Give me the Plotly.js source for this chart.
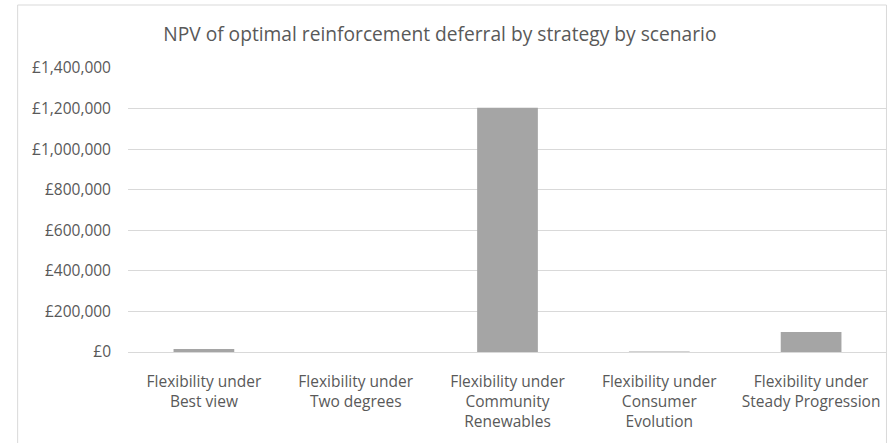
<!DOCTYPE html>
<html>
<head>
<meta charset="utf-8">
<script src="https://cdn.plot.ly/plotly-3.0.1.min.js"></script>
<style>
  html, body { margin: 0; padding: 0; background: #ffffff; }
  #chart { width: 894px; height: 443px; }
</style>
</head>
<body>
<div id="chart"></div>
<script>
const categories = [
  "Flexibility under<br>Best view",
  "Flexibility under<br>Two degrees",
  "Flexibility under<br>Community<br>Renewables",
  "Flexibility under<br>Consumer<br>Evolution",
  "Flexibility under<br>Steady Progression"
];
const npvValues = [15000, 0, 1204000, 2000, 99000];
const yTickValues = [0, 200000, 400000, 600000, 800000, 1000000, 1200000, 1400000];
const yTickLabels = ["£0", "£200,000", "£400,000", "£600,000", "£800,000", "£1,000,000", "£1,200,000", "£1,400,000"];

const fontFamily = "'Open Sans', 'Noto Sans', sans-serif";
const textColor = "#595959";

const trace = {
  type: "bar",
  x: categories,
  y: npvValues,
  marker: { color: "#a5a5a5", line: { width: 0 } },
  hoverinfo: "x+y"
};

const layout = {
  width: 894,
  height: 443,
  margin: { l: 127.5, r: 6.5, t: 68, b: 91, pad: 0 },
  paper_bgcolor: "#ffffff",
  plot_bgcolor: "#ffffff",
  showlegend: false,
  bargap: 0.6,
  title: {
    text: "NPV of optimal reinforcement deferral by strategy by scenario",
    font: { family: fontFamily, size: 19.2, color: textColor },
    x: 0.492, xanchor: "center", xref: "container",
    y: 0.922, yanchor: "middle", yref: "container"
  },
  xaxis: {
    type: "category",
    showgrid: false,
    showline: false,
    zeroline: false,
    ticks: "",
    ticklabelstandoff: 18,
    tickfont: { family: fontFamily, size: 15.5, color: textColor },
    fixedrange: true
  },
  yaxis: {
    range: [0, 1400000],
    tickmode: "array",
    tickvals: yTickValues,
    ticktext: yTickLabels,
    showgrid: true,
    gridcolor: "#d9d9d9",
    gridwidth: 1,
    zeroline: true,
    zerolinecolor: "#d9d9d9",
    zerolinewidth: 1,
    showline: false,
    ticks: "",
    ticklabelstandoff: 16,
    tickfont: { family: fontFamily, size: 15.5, color: textColor },
    fixedrange: true
  },
  shapes: [{
    type: "rect",
    xref: "paper", yref: "paper",
    x0: -0.1454, x1: 0.9993,
    y0: -0.4, y1: 1.2218,
    line: { color: "#d9d9d9", width: 1 },
    fillcolor: "rgba(0,0,0,0)",
    layer: "below"
  }]
};

Plotly.newPlot("chart", [trace], layout, { displayModeBar: false, staticPlot: true });
</script>
</body>
</html>
